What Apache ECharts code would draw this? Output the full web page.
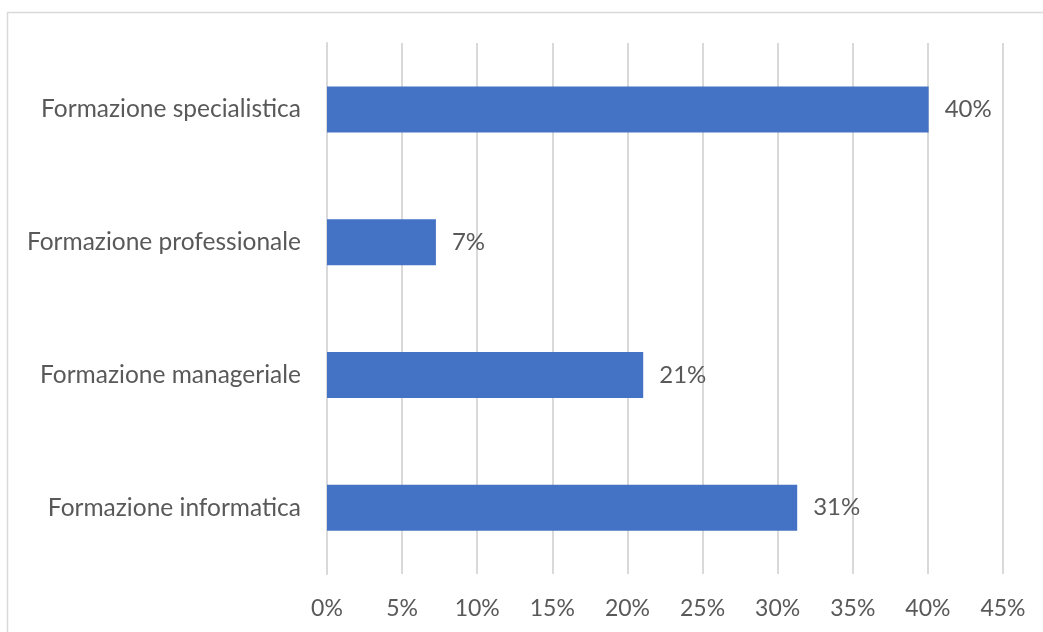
<!DOCTYPE html>
<html>
<head>
<meta charset="utf-8">
<script src="https://cdn.jsdelivr.net/npm/echarts@6/dist/echarts.min.js"></script>
<style>
    html, body { margin: 0; padding: 0; background: #fff; }
    #chart { width: 1043px; height: 632px; }
</style>
</head>
<body>
<div id="chart"></div>
<script>
    // categories bottom -> top (category axis on y goes upward)
    const categories = ['Formazione informatica', 'Formazione manageriale', 'Formazione professionale', 'Formazione specialistica'];
    const values = [31.3, 21.05, 7.25, 40.05];
    const tickLabels = ['0%', '5%', '10%', '15%', '20%', '25%', '30%', '35%', '40%', '45%'];

    const myChart = echarts.init(document.getElementById('chart'));
    const textColor = '#595959';
    const font = 'Lato';

    const option = {
        animation: false,
        graphic: [{
            type: 'rect',
            shape: { x: 7.5, y: 12.5, width: 1100, height: 700 },
            style: { fill: 'none', stroke: '#d9d9d9', lineWidth: 1.5 },
            silent: true
        }],
        grid: { left: 327, right: 40, top: 43, bottom: 58 },
        xAxis: {
            type: 'value',
            min: 0,
            max: 45,
            interval: 5,
            axisLine: { show: false },
            axisTick: { show: false },
            splitLine: { lineStyle: { color: '#d9d9d9', width: 2 } },
            axisLabel: {
                color: textColor,
                fontFamily: font,
                fontSize: 23,
                margin: 23,
                formatter: function (v) { return tickLabels[Math.round(v / 5)]; }
            }
        },
        yAxis: {
            type: 'category',
            data: categories,
            axisLine: { show: true, lineStyle: { color: '#d9d9d9', width: 2 } },
            axisTick: { show: false },
            axisLabel: {
                color: textColor,
                fontFamily: font,
                fontSize: 24.5,
                margin: 26
            }
        },
        series: [{
            type: 'bar',
            data: values,
            barWidth: 46,
            itemStyle: { color: '#4472c4' },
            label: {
                show: true,
                position: 'right',
                distance: 16,
                color: textColor,
                fontFamily: font,
                fontSize: 24,
                formatter: function (p) { return Math.round(p.value) + '%'; }
            }
        }]
    };
    myChart.setOption(option);
</script>
</body>
</html>
